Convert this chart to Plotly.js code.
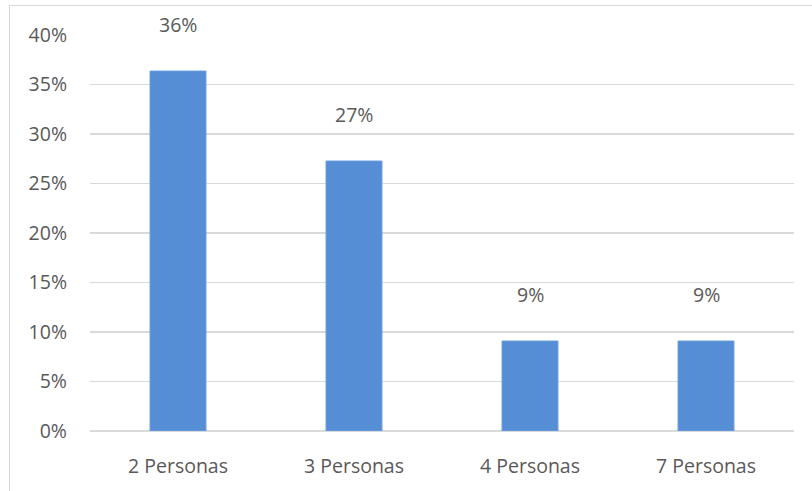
<!DOCTYPE html>
<html>
<head>
<meta charset="utf-8">
<script src="https://cdn.plot.ly/plotly-3.0.1.min.js"></script>
<style>
html,body{margin:0;padding:0;background:#fff;}
#chart{position:absolute;left:0;top:0;width:812px;height:491px;}
#frame{position:absolute;left:9px;top:5px;width:803px;height:486px;border-left:1px solid #d9d9d9;border-top:1px solid #d9d9d9;pointer-events:none;}
</style>
</head>
<body>
<div id="chart"></div>
<div id="frame"></div>
<script>
const categories = ["2 Personas", "3 Personas", "4 Personas", "7 Personas"];
const values = [0.3636, 0.2727, 0.0909, 0.0909];
const valueLabels = ["36%", "27%", "9%", "9%"];

const font = {family: "'Open Sans', sans-serif", size: 19.5, color: "#595959"};

const trace = {
  type: "bar",
  x: categories,
  y: values,
  marker: {color: "#558ed5", line: {color: "#6a9ee0", width: 1}},
  hoverinfo: "none"
};

const annotations = categories.map((c, i) => ({
  x: c, y: values[i], xref: "x", yref: "y",
  text: valueLabels[i], showarrow: false,
  yanchor: "middle", yshift: 47,
  font: font
}));

const layout = {
  width: 812, height: 491,
  margin: {l: 90, r: 18, t: 35, b: 60},
  paper_bgcolor: "#ffffff",
  plot_bgcolor: "#ffffff",
  bargap: 0.682,
  showlegend: false,
  font: font,
  xaxis: {
    type: "category",
    showgrid: false, zeroline: false,
    showline: false,
    ticks: "",
    ticklabelstandoff: 21,
    tickfont: font,
    fixedrange: true
  },
  yaxis: {
    range: [0, 0.4],
    dtick: 0.05,
    tickformat: ".0%",
    showgrid: true, gridcolor: "#d9d9d9", gridwidth: 1.5,
    zeroline: true, zerolinecolor: "#d9d9d9", zerolinewidth: 1.5,
    showline: false,
    ticks: "",
    ticklabelstandoff: 22,
    tickfont: font,
    fixedrange: true
  },
  annotations: annotations
};

Plotly.newPlot("chart", [trace], layout, {displayModeBar: false, staticPlot: true});
</script>
</body>
</html>
